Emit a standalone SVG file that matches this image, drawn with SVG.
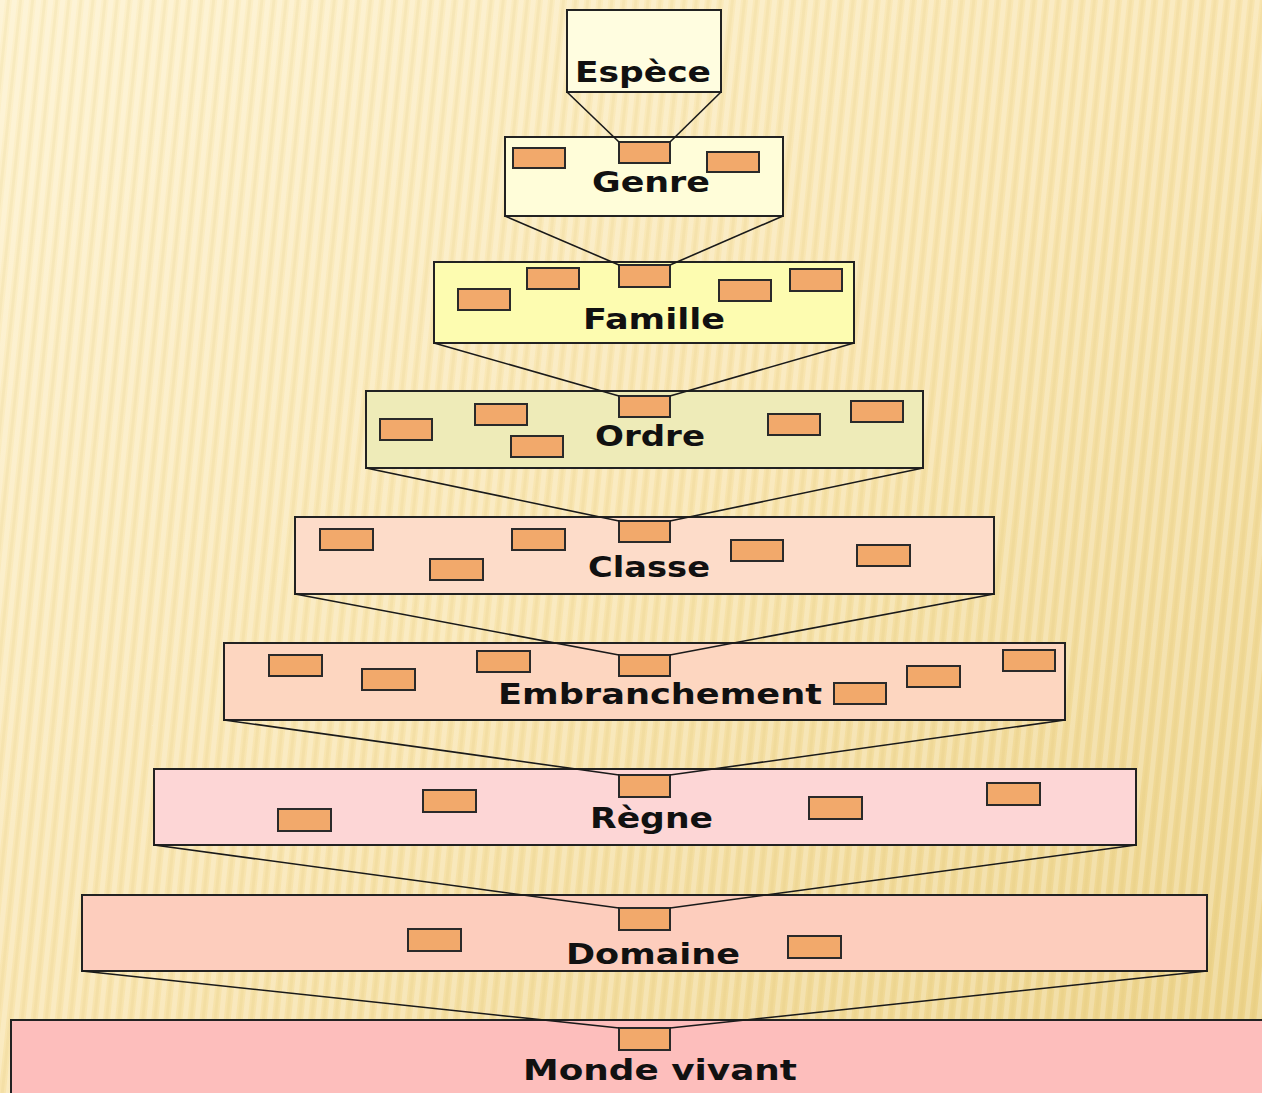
<svg xmlns="http://www.w3.org/2000/svg" width="1262" height="1093" viewBox="0 0 1262 1093">
<defs>
<linearGradient id="bg" x1="0" y1="0" x2="1" y2="1">
<stop offset="0" stop-color="#fdf1cc"/>
<stop offset="0.5" stop-color="#f8e4ae"/>
<stop offset="1" stop-color="#ebd186"/>
</linearGradient>
<pattern id="stripes" width="12" height="40" patternUnits="userSpaceOnUse" patternTransform="rotate(6)">
<rect x="0" y="0" width="5" height="40" fill="#ffffff" opacity="0.22"/>
<rect x="7" y="0" width="3" height="40" fill="#d9bf70" opacity="0.12"/>
</pattern>
<style>
.box{stroke:#222;stroke-width:2}
.tile{fill:#f2a96b;stroke:#2a2a2a;stroke-width:2}
.lbl{font-family:"DejaVu Sans",sans-serif;font-weight:bold;font-size:28px;fill:#111}
.conn line{stroke:#1a1a1a;stroke-width:1.6}
</style>
</defs>
<rect width="1262" height="1093" fill="url(#bg)"/>
<rect width="1262" height="1093" fill="url(#stripes)"/>

<g id="espece">
<rect class="box" x="567" y="10" width="154" height="82" fill="#fffde0"/>
<text class="lbl" x="575" y="82" textLength="136" lengthAdjust="spacingAndGlyphs">Espèce</text>
</g>

<g id="genre">
<rect class="box" x="505" y="137" width="278" height="79" fill="#fffdd9"/>
<rect class="tile" x="513" y="148" width="52" height="20"/>
<rect class="tile" x="619" y="142" width="51" height="21"/>
<rect class="tile" x="707" y="152" width="52" height="20"/>
<text class="lbl" x="592" y="192" textLength="118" lengthAdjust="spacingAndGlyphs">Genre</text>
</g>

<g id="famille">
<rect class="box" x="434" y="262" width="420" height="81" fill="#fdfcb0"/>
<rect class="tile" x="458" y="289" width="52" height="21"/>
<rect class="tile" x="527" y="268" width="52" height="21"/>
<rect class="tile" x="619" y="265" width="51" height="22"/>
<rect class="tile" x="719" y="280" width="52" height="21"/>
<rect class="tile" x="790" y="269" width="52" height="22"/>
<text class="lbl" x="583" y="329" textLength="142" lengthAdjust="spacingAndGlyphs">Famille</text>
</g>

<g id="ordre">
<rect class="box" x="366" y="391" width="557" height="77" fill="#eeebb8"/>
<rect class="tile" x="380" y="419" width="52" height="21"/>
<rect class="tile" x="475" y="404" width="52" height="21"/>
<rect class="tile" x="511" y="436" width="52" height="21"/>
<rect class="tile" x="619" y="396" width="51" height="21"/>
<rect class="tile" x="768" y="414" width="52" height="21"/>
<rect class="tile" x="851" y="401" width="52" height="21"/>
<text class="lbl" x="595" y="446" textLength="110" lengthAdjust="spacingAndGlyphs">Ordre</text>
</g>

<g id="classe">
<rect class="box" x="295" y="517" width="699" height="77" fill="#fddcc9"/>
<rect class="tile" x="320" y="529" width="53" height="21"/>
<rect class="tile" x="430" y="559" width="53" height="21"/>
<rect class="tile" x="512" y="529" width="53" height="21"/>
<rect class="tile" x="619" y="521" width="51" height="21"/>
<rect class="tile" x="731" y="540" width="52" height="21"/>
<rect class="tile" x="857" y="545" width="53" height="21"/>
<text class="lbl" x="588" y="577" textLength="122" lengthAdjust="spacingAndGlyphs">Classe</text>
</g>

<g id="embranchement">
<rect class="box" x="224" y="643" width="841" height="77" fill="#fdd6c0"/>
<rect class="tile" x="269" y="655" width="53" height="21"/>
<rect class="tile" x="362" y="669" width="53" height="21"/>
<rect class="tile" x="477" y="651" width="53" height="21"/>
<rect class="tile" x="619" y="655" width="51" height="21"/>
<rect class="tile" x="834" y="683" width="52" height="21"/>
<rect class="tile" x="907" y="666" width="53" height="21"/>
<rect class="tile" x="1003" y="650" width="52" height="21"/>
<text class="lbl" x="498" y="704" textLength="324" lengthAdjust="spacingAndGlyphs">Embranchement</text>
</g>

<g id="regne">
<rect class="box" x="154" y="769" width="982" height="76" fill="#fdd6d6"/>
<rect class="tile" x="278" y="809" width="53" height="22"/>
<rect class="tile" x="423" y="790" width="53" height="22"/>
<rect class="tile" x="619" y="775" width="51" height="22"/>
<rect class="tile" x="809" y="797" width="53" height="22"/>
<rect class="tile" x="987" y="783" width="53" height="22"/>
<text class="lbl" x="590" y="828" textLength="123" lengthAdjust="spacingAndGlyphs">Règne</text>
</g>

<g id="domaine">
<rect class="box" x="82" y="895" width="1125" height="76" fill="#fdcdbd"/>
<rect class="tile" x="408" y="929" width="53" height="22"/>
<rect class="tile" x="619" y="908" width="51" height="22"/>
<rect class="tile" x="788" y="936" width="53" height="22"/>
<text class="lbl" x="566" y="964" textLength="174" lengthAdjust="spacingAndGlyphs">Domaine</text>
</g>

<g id="monde-vivant">
<rect class="box" x="11" y="1020" width="1260" height="90" fill="#fdbebc"/>
<rect class="tile" x="619" y="1028" width="51" height="22"/>
<text class="lbl" x="523" y="1080" textLength="274" lengthAdjust="spacingAndGlyphs">Monde vivant</text>
</g>

<g class="conn">
<line x1="567" y1="92" x2="619" y2="142"/><line x1="721" y1="92" x2="670" y2="142"/>
<line x1="505" y1="216" x2="619" y2="265"/><line x1="783" y1="216" x2="670" y2="265"/>
<line x1="434" y1="343" x2="619" y2="396"/><line x1="854" y1="343" x2="670" y2="396"/>
<line x1="366" y1="468" x2="619" y2="521"/><line x1="923" y1="468" x2="670" y2="521"/>
<line x1="295" y1="594" x2="619" y2="655"/><line x1="994" y1="594" x2="670" y2="655"/>
<line x1="224" y1="720" x2="619" y2="775"/><line x1="1065" y1="720" x2="670" y2="775"/>
<line x1="154" y1="845" x2="619" y2="908"/><line x1="1136" y1="845" x2="670" y2="908"/>
<line x1="82" y1="971" x2="619" y2="1028"/><line x1="1207" y1="971" x2="670" y2="1028"/>
</g>
</svg>
